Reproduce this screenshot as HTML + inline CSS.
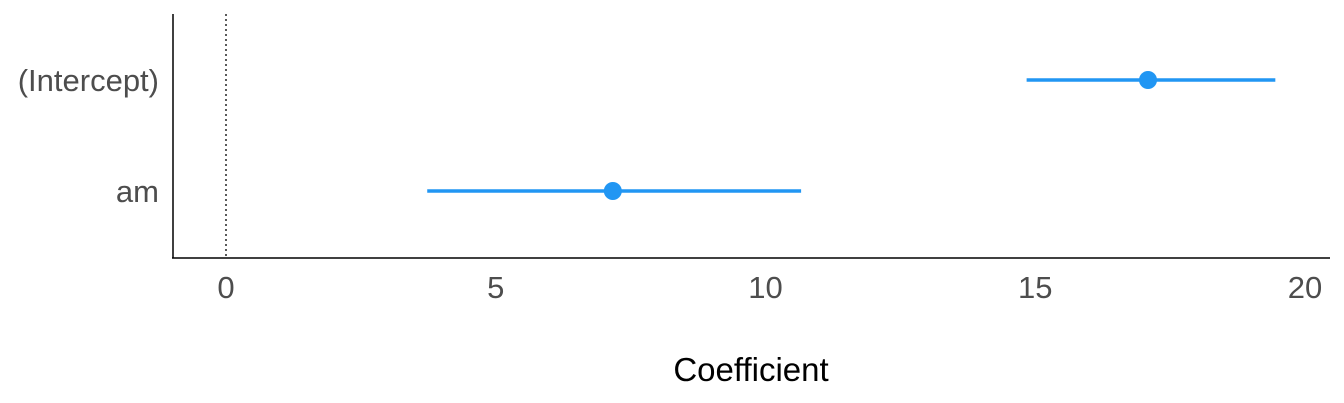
<!DOCTYPE html>
<html><head><meta charset="utf-8"><style>
body{margin:0;background:#fff;}
svg{display:block;font-family:"Liberation Sans",Arial,sans-serif;}
</style></head><body>
<svg id="chart" width="1344" height="403" viewBox="0 0 1344 403">
<line x1="173" y1="14" x2="173" y2="258" stroke="#000" stroke-width="1.5"/>
<line x1="172" y1="258" x2="1330" y2="258" stroke="#000" stroke-width="1.5"/>
<g id="ticks"></g>
<line id="zero" y1="14" y2="258" stroke="#000" stroke-width="1.3" stroke-dasharray="2,3"/>
<g id="marks"></g>
<text x="751" y="381" font-size="33" text-anchor="middle" fill="#000">Coefficient</text>
</svg>
<script>
const terms = ["(Intercept)", "am"];
const estimates = [17.09, 7.17];
const lower = [14.84, 3.73];
const upper = [19.45, 10.66];
const xTicks = [0, 5, 10, 15, 20];

const NS = "http://www.w3.org/2000/svg";
function xs(v){ return 226 + v * 53.95; }
function ys(i){ return 80 + i * 111; }
function mk(tag, attrs, parent){
  const e = document.createElementNS(NS, tag);
  for (const k in attrs) e.setAttribute(k, attrs[k]);
  parent.appendChild(e); return e;
}
const tg = document.getElementById('ticks');
xTicks.forEach(t => {
  const el = mk('text', {x: xs(t), y: 298, 'font-size': 31, 'text-anchor': 'middle', fill: '#4d4d4d'}, tg);
  
  
  el.textContent = t;
});
const z = document.getElementById('zero');
z.setAttribute('x1', xs(0)); z.setAttribute('x2', xs(0));
const mg = document.getElementById('marks');
terms.forEach((term, i) => {
  const lab = mk('text', {x: 159, y: ys(i) + 11, 'font-size': 31, 'text-anchor': 'end', fill: '#4d4d4d'}, mg);
  
  
  lab.textContent = term;
  const ln = mk('line', {x1: xs(lower[i]), x2: xs(upper[i]), y1: ys(i), y2: ys(i), stroke: '#2196f3', 'stroke-width': 3.5}, mg);
  
  
  const pt = mk('circle', {cx: xs(estimates[i]), cy: ys(i), r: 9, fill: '#2196f3'}, mg);
  
  
});
</script>
</body></html>
